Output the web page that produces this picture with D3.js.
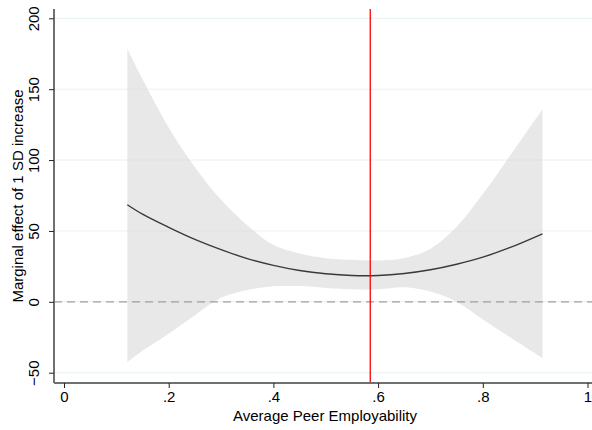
<!DOCTYPE html>
<html>
<head>
<meta charset="utf-8">
<script src="https://cdn.jsdelivr.net/npm/d3@7"></script>
<style>
  body { margin: 0; background: #fff; }
  svg { display: block; font-family: "Liberation Sans", Arial, sans-serif; }
</style>
</head>
<body>
<svg id="chart" width="592" height="430"></svg>
<script>
// values
const peerX   = [0.121, 0.15, 0.2, 0.25, 0.3, 0.35, 0.4, 0.45, 0.5, 0.55, 0.6, 0.65, 0.7, 0.75, 0.8, 0.85, 0.914];
const effect  = [68.5, 61.8, 52.5, 44, 36.8, 30.5, 25.7, 22.1, 19.8, 18.6, 18.6, 20, 22.6, 26.5, 31.5, 38, 48];
const ciUpper = [178.5, 157, 123, 95, 72, 54, 40, 34, 30.8, 29.6, 29.2, 30.8, 37.5, 53, 76, 102, 135.8];
const ciLower = [-42.5, -34.5, -22.5, -9.5, 2.8, 8.3, 10.9, 11.1, 9.8, 8.8, 8.8, 10.2, 7.2, 0, -12.5, -24.5, -39.8];
const xTicks = [0, 0.2, 0.4, 0.6, 0.8, 1];
const xTickLabels = ["0", ".2", ".4", ".6", ".8", "1"];
const yTicks = [-50, 0, 50, 100, 150, 200];
const meanPeer = 0.585;

const svg = d3.select("#chart");
const plotLeft = 54, plotRight = 592, plotTop = 9, plotBottom = 383;

const x = d3.scaleLinear().domain([0, 1]).range([64, 587.5]);
const y = d3.scaleLinear().domain([-50, 200]).range([372.7, 18.3]);

const pts = peerX.map((v, i) => ({ x: v, m: effect[i], lo: ciLower[i], hi: ciUpper[i] }));
const smooth = d3.curveCatmullRom.alpha(0.5);

// confidence band
svg.append("path")
  .datum(pts)
  .attr("fill", "#e8e8e8")
  .attr("d", d3.area()
    .x(d => x(d.x))
    .y0(d => y(d.lo))
    .y1(d => y(d.hi))
    .curve(smooth));

// gridlines
svg.append("g")
  .selectAll("line")
  .data(yTicks)
  .join("line")
  .attr("x1", plotLeft).attr("x2", plotRight)
  .attr("y1", d => y(d)).attr("y2", d => y(d))
  .attr("stroke", "rgb(205,225,225)")
  .attr("stroke-opacity", 0.45)
  .attr("stroke-width", 1);

// zero reference
svg.append("line")
  .attr("x1", plotLeft).attr("x2", plotRight)
  .attr("y1", y(0)).attr("y2", y(0))
  .attr("stroke", "#a0a0a0")
  .attr("stroke-width", 1.2)
  .attr("stroke-dasharray", "8,5");

// marginal effect line
svg.append("path")
  .datum(pts)
  .attr("fill", "none")
  .attr("stroke", "#3a3a3a")
  .attr("stroke-width", 1.4)
  .attr("d", d3.line().x(d => x(d.x)).y(d => y(d.m)).curve(smooth));

// mean line
svg.append("line")
  .attr("x1", x(meanPeer)).attr("x2", x(meanPeer))
  .attr("y1", plotTop).attr("y2", plotBottom)
  .attr("stroke", "#ff0000")
  .attr("stroke-width", 1.3);

// x axis
const xAxis = svg.append("g")
  .attr("transform", `translate(0,${plotBottom})`)
  .call(d3.axisBottom(x).tickValues(xTicks).tickFormat((d, i) => xTickLabels[i]).tickSize(5).tickSizeOuter(0));
xAxis.select(".domain").attr("d", `M${plotLeft},0H${plotRight}`).attr("stroke", "#707070").attr("stroke-width", 2);
xAxis.selectAll(".tick line").attr("stroke", "#222").attr("stroke-width", 1);
xAxis.selectAll(".tick text").attr("font-size", 15).attr("fill", "#000").attr("dy", "0.9em").attr("y", 5);

// y axis
const yAxis = svg.append("g")
  .attr("transform", `translate(${plotLeft},0)`)
  .call(d3.axisLeft(y).tickValues(yTicks).tickSize(5).tickSizeOuter(0));
yAxis.select(".domain").attr("d", `M0,${plotTop}V${plotBottom}`).attr("stroke", "#707070").attr("stroke-width", 2);
yAxis.selectAll(".tick line").attr("stroke", "#222").attr("stroke-width", 1);
yAxis.selectAll(".tick text")
  .attr("font-size", 15).attr("fill", "#000")
  .attr("x", null).attr("dy", null)
  .attr("text-anchor", "middle")
  .attr("transform", "translate(-15,0) rotate(-90)");

// axis titles
svg.append("text")
  .attr("x", 325).attr("y", 421)
  .attr("text-anchor", "middle")
  .attr("font-size", 15)
  .text("Average Peer Employability");

svg.append("text")
  .attr("transform", `translate(23,${(plotTop + plotBottom) / 2}) rotate(-90)`)
  .attr("text-anchor", "middle")
  .attr("font-size", 15)
  .text("Marginal effect of 1 SD increase");
</script>
</body>
</html>
